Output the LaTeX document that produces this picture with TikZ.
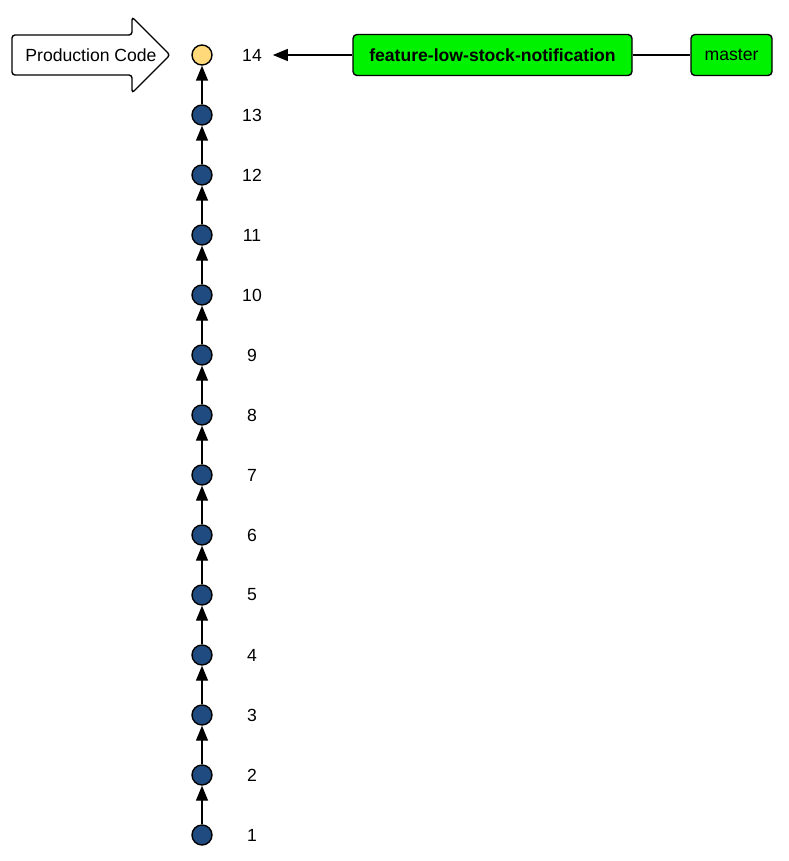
\documentclass[tikz,border=0pt]{standalone}
\usepackage{fontspec}
\setmainfont{Liberation Sans}
\usetikzlibrary{positioning, arrows.meta}
\definecolor{commitblue}{RGB}{31,75,128}
\definecolor{headyellow}{RGB}{255,217,122}
\definecolor{branchgreen}{RGB}{0,242,0}

\begin{document}
\begin{tikzpicture}[x=0.5pt, y=-0.5pt, font=\fontsize{8.8}{10}\selectfont,
    commit/.style={circle, draw, line width=0.7pt, minimum size=10pt, inner sep=0pt, fill=commitblue},
    branch/.style={draw, rounded corners=2pt, line width=0.7pt, fill=branchgreen, minimum height=20.5pt},
    parent/.style={-{Triangle[length=7.5pt, width=6pt]}, line width=0.7pt}]
    \useasboundingbox (0,0) rectangle (788,861);
    % commits
    \foreach \i in {1,...,13}
      \node[commit] (c\i) at (202, {895-60*\i}) {};
    \node[commit, fill=headyellow] (c14) at (202, 55) {};
    \foreach \i in {1,...,14}
      \node (l\i) at ([xshift=25pt]c\i) {\i};
    \foreach \i [evaluate=\i as \j using int(\i+1)] in {1,...,13}
      \draw[parent] (c\i) -- (c\j);
    % branches
    \node[branch, minimum width=139.5pt, font=\fontsize{8.8}{10}\selectfont\bfseries] (feature) at (492.5, 55) {feature-low-stock-notification};
    \node[branch, minimum width=40.5pt] (master) at (731.5, 55) {master};
    \draw[parent] (feature) -- ([xshift=2pt]l14.east);
    \draw[line width=0.7pt] (feature) -- (master);
    % production pointer
    \draw[line width=0.7pt, rounded corners=1.5pt, fill=white]
      (12,35) -- (132,35) -- (132,17) -- (170,55) -- (132,93) -- (132,75) -- (12,75) -- cycle;
    \node (prod) at (91, 55) {Production Code};
\end{tikzpicture}
\end{document}
